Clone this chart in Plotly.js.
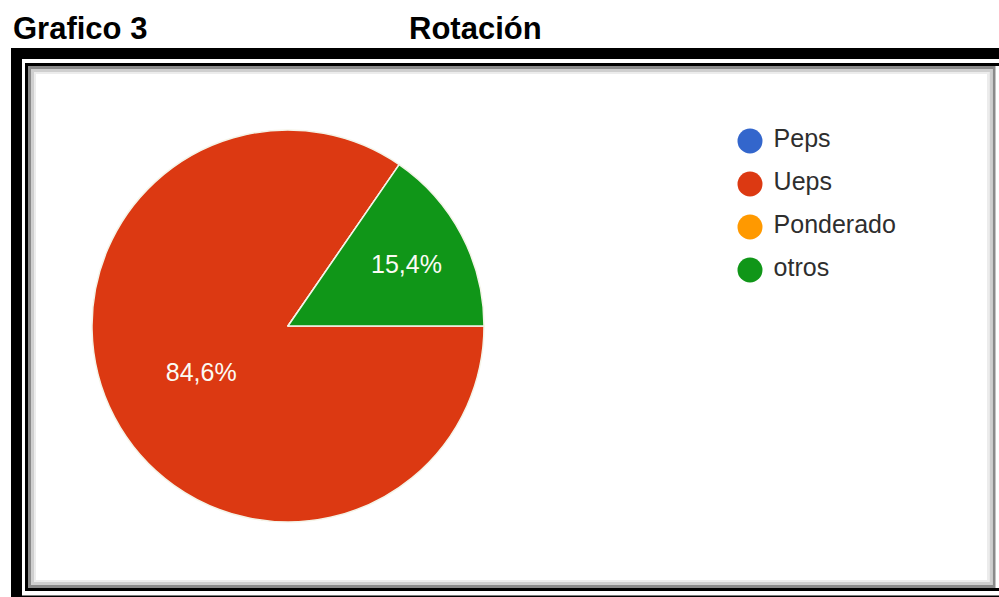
<!DOCTYPE html>
<html>
<head>
<meta charset="utf-8">
<script src="https://cdn.plot.ly/plotly-3.0.1.min.js"></script>
<style>html,body{margin:0;padding:0;background:#fff;}#chart{width:999px;height:597px;}</style>
</head>
<body>
<div id="chart"></div>
<script>
var categories = ['Peps', 'Ueps', 'Ponderado', 'otros'];
var values = [0, 84.6, 0, 15.4];
var sliceColors = ['#3366cc', '#dc3912', '#ff9900', '#109618'];
var chartTitle = 'Grafico 3';
var chartSubtitle = 'Rotación';

var W = 999, H = 597;
function px(x){ return x / W; }
function py(y){ return 1 - y / H; }

var pie = {
  type: 'pie',
  labels: categories,
  values: values,
  sort: false,
  direction: 'clockwise',
  rotation: 90,
  marker: { colors: sliceColors, line: { color: '#f4f4e8', width: 1.5 } },
  textposition: 'inside',
  insidetextorientation: 'horizontal',
  texttemplate: values.map(function(v){ return v > 0 ? '%{percent:.1%}' : ''; }),
  textfont: { family: 'Liberation Sans, Arial, sans-serif', size: 25, color: '#fbfbf4' },
  hoverinfo: 'label+percent',
  showlegend: false,
  domain: { x: [px(92), px(484)], y: [py(522), py(130)] }
};

var legendTrace = {
  type: 'scatter',
  mode: 'markers+text',
  x: categories.map(function(){ return 0; }),
  y: categories,
  text: categories,
  texttemplate: '\u00a0%{text}',
  textposition: 'middle right',
  textfont: { family: 'Liberation Sans, Arial, sans-serif', size: 25, color: '#2e2e2e' },
  marker: { symbol: 'circle', size: 25, color: sliceColors, line: { width: 0 } },
  cliponaxis: false,
  hoverinfo: 'skip',
  showlegend: false,
  xaxis: 'x', yaxis: 'y'
};

function frameRect(x0, y0, x1, y1, color, width) {
  return { type: 'rect', xref: 'paper', yref: 'paper', x0: px(x0), x1: px(x1), y0: py(y1), y1: py(y0),
           line: { color: color, width: width }, fillcolor: 'rgba(0,0,0,0)', layer: 'above' };
}

var layout = {
  width: W, height: H,
  margin: { l: 0, r: 0, t: 0, b: 0 },
  paper_bgcolor: '#ffffff', plot_bgcolor: 'rgba(0,0,0,0)',
  separators: ',.',
  showlegend: false,
  xaxis: { domain: [px(740), px(760)], range: [-1, 1], visible: false, fixedrange: true },
  yaxis: { domain: [py(291.5), py(119.5)], type: 'category', categoryorder: 'array', categoryarray: categories,
           range: [3.5, -0.5], visible: false, fixedrange: true },
  annotations: [
    { text: '<b>' + chartTitle + '</b>', xref: 'paper', yref: 'paper', x: px(11), y: py(29), xanchor: 'left', yanchor: 'middle',
      showarrow: false, font: { family: 'Liberation Sans, Arial, sans-serif', size: 31, color: '#000' } },
    { text: '<b>' + chartSubtitle + '</b>', xref: 'paper', yref: 'paper', x: px(407), y: py(29), xanchor: 'left', yanchor: 'middle',
      showarrow: false, font: { family: 'Liberation Sans, Arial, sans-serif', size: 31, color: '#000' } }
  ],
  shapes: [
    frameRect(16.5, 53.5, 1012, 601, '#000000', 11),
    frameRect(26.5, 64.5, 1004, 589.5, '#000000', 3),
    frameRect(29.5, 67.5, 994, 586.5, '#8a8a8a', 3),
    frameRect(32.5, 70.5, 991, 583.5, '#cfcfcf', 3),
    frameRect(35, 73, 988, 581, '#ececec', 2)
  ]
};

Plotly.newPlot('chart', [pie, legendTrace], layout, { staticPlot: true, displayModeBar: false });
</script>
</body>
</html>
